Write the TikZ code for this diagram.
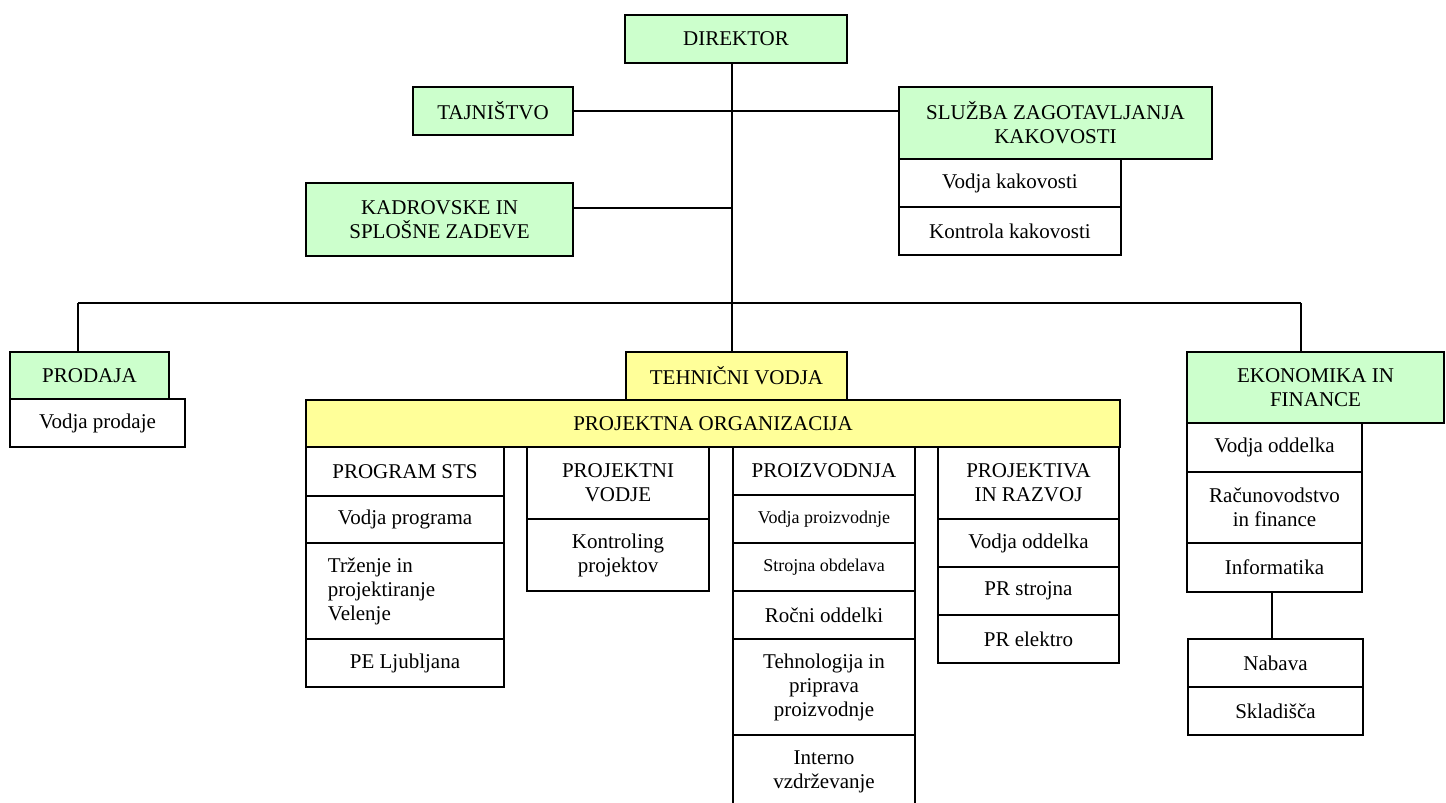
\documentclass[tikz,border=0pt]{standalone}
\usepackage{fontspec}
\setmainfont{Liberation Serif}
\definecolor{boxgreen}{HTML}{CCFFCC}
\definecolor{boxyellow}{HTML}{FFFF99}
\tikzset{
  box/.style={draw=black, line width=0.9pt, fill=white, inner sep=0pt, align=center,
    font=\fontsize{10.5}{12}\selectfont},
  green/.style={fill=boxgreen},
  yellow/.style={fill=boxyellow},
  smalltext/.style={font=\fontsize{9}{11}\selectfont},
  conn/.style={draw=black, line width=0.9pt}
}
% #1 options, #2 name, #3 x1, #4 y1, #5 x2, #6 y2, #7 text
\newcommand\obox[7][]{%
  \node[box,#1,minimum width={(#5-#3)*0.5pt},minimum height={(#6-#4)*0.5pt}]
    (#2) at ({(#3+#5)/2},{(#4+#6)/2}) {#7};}
\begin{document}
\begin{tikzpicture}[x=0.5pt,y=-0.5pt]
\useasboundingbox (0,0) rectangle (1446,803);
\clip (0,0) rectangle (1446,803);
\fill[white] (0,0) rectangle (1446,803);

\coordinate (trunk) at (732,0);
\coordinate (busL) at (78,303);
\coordinate (busR) at (1301,303);
\coordinate (nabx) at (1272,0);
\coordinate (kadline) at (0,208);

\obox[green]{dir}{625}{15}{847}{63}{DIREKTOR}
\obox[green]{taj}{413}{87}{573}{135}{TAJNIŠTVO}
\obox[green]{slu}{899}{87}{1212}{159}{SLUŽBA ZAGOTAVLJANJA\\KAKOVOSTI}
\obox{vk}{899}{159}{1121}{207}{Vodja kakovosti}
\obox{kk}{899}{207}{1121}{255}{Kontrola kakovosti}
\obox[green]{kad}{306}{183}{573}{256}{KADROVSKE IN\\SPLOŠNE ZADEVE}

\obox[green]{prod}{10}{352}{169}{399}{PRODAJA}
\obox{vp}{10}{399}{185}{447}{Vodja prodaje}

\obox[yellow]{teh}{626}{352}{847}{400}{TEHNIČNI VODJA}
\obox[yellow]{po}{306}{400}{1120}{447}{PROJEKTNA ORGANIZACIJA}

\obox{sts}{306}{447}{504}{496}{PROGRAM STS}
\obox{vprog}{306}{496}{504}{543}{Vodja programa}
\obox{trz}{306}{543}{504}{639}{}
\node[box, draw=none, fill=none, align=left, anchor=west] (trztext) at (327,591)
  {Trženje in\\projektiranje\\Velenje};
\obox{pel}{306}{639}{504}{687}{PE Ljubljana}

\obox{pv}{527}{447}{709}{519}{PROJEKTNI\\VODJE}
\obox{kon}{527}{519}{709}{591}{Kontroling\\projektov}

\obox{pro}{733}{447}{915}{495}{PROIZVODNJA}
\obox[smalltext]{vpro}{733}{495}{915}{543}{Vodja proizvodnje}
\obox[smalltext]{str}{733}{543}{915}{591}{Strojna obdelava}
\obox{roc}{733}{591}{915}{639}{Ročni oddelki}
\obox{tp}{733}{639}{915}{735}{Tehnologija in\\priprava\\proizvodnje}
\obox{int}{733}{735}{915}{809}{Interno\\vzdrževanje}

\obox{prr}{938}{447}{1119}{519}{PROJEKTIVA\\IN RAZVOJ}
\obox{vo2}{938}{519}{1119}{567}{Vodja oddelka}
\obox{prs}{938}{567}{1119}{615}{PR strojna}
\obox{pre}{938}{615}{1119}{663}{PR elektro}

\obox[green]{eko}{1187}{352}{1444}{423}{EKONOMIKA IN\\FINANCE}
\obox{vo3}{1187}{423}{1362}{472}{Vodja oddelka}
\obox{rac}{1187}{472}{1362}{543}{Računovodstvo\\in finance}
\obox{inf}{1187}{543}{1362}{592}{Informatika}
\obox{nab}{1188}{639}{1363}{687}{Nabava}
\obox{skl}{1188}{687}{1363}{735}{Skladišča}

% connectors
\path[conn] (dir.south -| trunk) -- (teh.north -| trunk);
\path[conn] (taj.east) -- (taj.east -| slu.west);
\path[conn] (kad.east |- kadline) -- (trunk |- kadline);
\path[conn] (busL) -- (busR);
\path[conn] (busL) -- (busL |- prod.north);
\path[conn] (busR) -- (busR |- eko.north);
\path[conn] (inf.south -| nabx) -- (nab.north -| nabx);
\end{tikzpicture}
\end{document}
